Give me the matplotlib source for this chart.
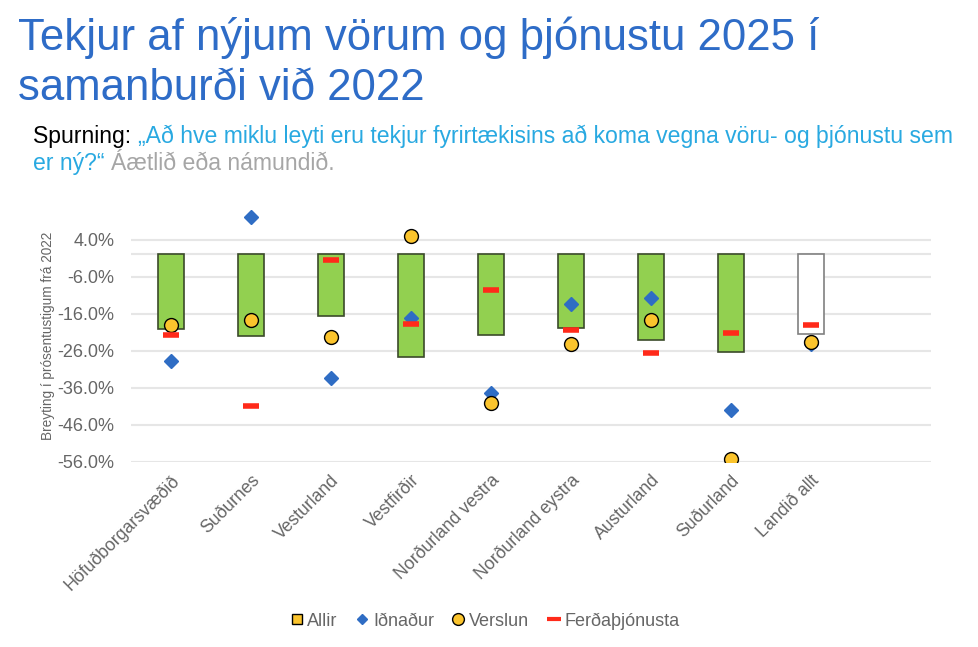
import matplotlib
matplotlib.use("Agg")
import matplotlib.pyplot as plt
from matplotlib.lines import Line2D
import numpy as np

plt.rcParams['font.family'] = ['Liberation Sans', 'DejaVu Sans']

categories = ["Höfuðborgarsvæðið", "Suðurnes", "Vesturland", "Vestfirðir",
              "Norðurland vestra", "Norðurland eystra", "Austurland",
              "Suðurland", "Landið allt"]
allir = [-20.2, -21.9, -16.6, -27.6, -21.6, -19.9, -23.0, -26.4, -21.5]
idnadur = [-28.7, 10.1, -33.3, -17.1, -37.3, -13.4, -11.8, -41.9, -24.2]
verslun = [-18.9, -17.7, -22.4, 5.1, -40.0, -24.1, -17.6, -55.2, -23.7]
ferda = [-21.8, -40.9, -1.4, -18.7, -9.6, -20.3, -26.7, -21.1, -19.1]
yticks = [4, -6, -16, -26, -36, -46, -56]

GREEN = '#92D050'
BLUE = '#2F6DC4'
YELLOW = '#FBC42D'
RED = '#FF2A1A'
GRAY = '#666666'

fig = plt.figure(figsize=(9.79, 6.47), dpi=100)
ax = fig.add_axes([131/979, 1-462/647, 800/979, (462-210)/647])

x = np.arange(len(categories))
facecolors = [GREEN]*(len(categories)-1) + ['white']
edgecolors = ['#3B4A2A']*(len(categories)-1) + ['#808080']
ax.bar(x, allir, width=0.32, color=facecolors, edgecolor=edgecolors, linewidth=1.2, zorder=2)
ax.plot(x, idnadur, ls='none', marker='D', ms=7.2, color=BLUE, zorder=3)
ax.plot(x, verslun, ls='none', marker='o', ms=10, mfc=YELLOW, mec='black', mew=1, zorder=4)
ax.plot(x, ferda, ls='none', marker='_', ms=12, mew=4, color=RED, zorder=5)

ax.set_xlim(-0.5, 9.5)
ax.set_ylim(-56, 12)
ax.set_yticks(yticks)
ax.set_yticklabels([f"{v:.1f}%" for v in yticks], fontsize=13, color=GRAY)
ax.set_xticks(x)
ax.set_xticklabels(categories, rotation=45, ha='right', va='top', rotation_mode='anchor',
                   fontsize=12.7, color=GRAY)
ax.tick_params(length=0)
ax.tick_params(axis='y', pad=12)
ax.tick_params(axis='x', pad=7)
for s in ax.spines.values():
    s.set_visible(False)
ax.grid(axis='y', color='#E6E6E6', linewidth=1.5, zorder=0)
ax.axhline(0, color='#E6E6E6', linewidth=1.5, zorder=0)
ax.set_axisbelow(True)
ax.set_ylabel("Breyting í prósentustigum frá 2022", fontsize=9.8, color=GRAY, labelpad=2)

# Title
title_fs = 31.5
fig.text(18/979, 1-50/647, "Tekjur af nýjum vörum og þjónustu 2025 í", fontsize=title_fs,
         color='#2E6CC7', ha='left', va='baseline')
fig.text(18/979, 1-100/647, "samanburði við 2022", fontsize=title_fs,
         color='#2E6CC7', ha='left', va='baseline')

# Subtitle
sub_fs = 16.6
t1 = fig.text(33/979, 1-143/647, "Spurning: ", fontsize=sub_fs, color='black', ha='left', va='baseline')
fig.canvas.draw()
r = fig.canvas.get_renderer()
bb = t1.get_window_extent(r)
fig.text(bb.x1/979, 1-143/647, "„Að hve miklu leyti eru tekjur fyrirtækisins að koma vegna vöru- og þjónustu sem",
         fontsize=sub_fs, color='#29A9E1', ha='left', va='baseline')
t3 = fig.text(33/979, 1-170/647, "er ný?“ ", fontsize=sub_fs, color='#29A9E1', ha='left', va='baseline')
bb3 = t3.get_window_extent(r)
fig.text(bb3.x1/979, 1-170/647, "Áætlið eða námundið.", fontsize=sub_fs, color='#A6A6A6', ha='left', va='baseline')

handles = [
    Line2D([], [], ls='none', marker='s', ms=7, mfc=YELLOW, mec='black', mew=1),
    Line2D([], [], ls='none', marker='D', ms=5.5, color=BLUE),
    Line2D([], [], ls='none', marker='o', ms=8.5, mfc=YELLOW, mec='black', mew=1),
    Line2D([], [], ls='none', marker='_', ms=10, mew=3, color=RED),
]
leg = fig.legend(handles, ["Allir", "Iðnaður", "Verslun", "Ferðaþjónusta"], loc='center',
                 bbox_to_anchor=(485/979, 1-621/647), ncol=4, frameon=False, fontsize=13,
                 handlelength=0.7, handletextpad=0.25, columnspacing=1.0)
for t in leg.get_texts():
    t.set_color(GRAY)

fig.savefig("out.png", dpi=100)
